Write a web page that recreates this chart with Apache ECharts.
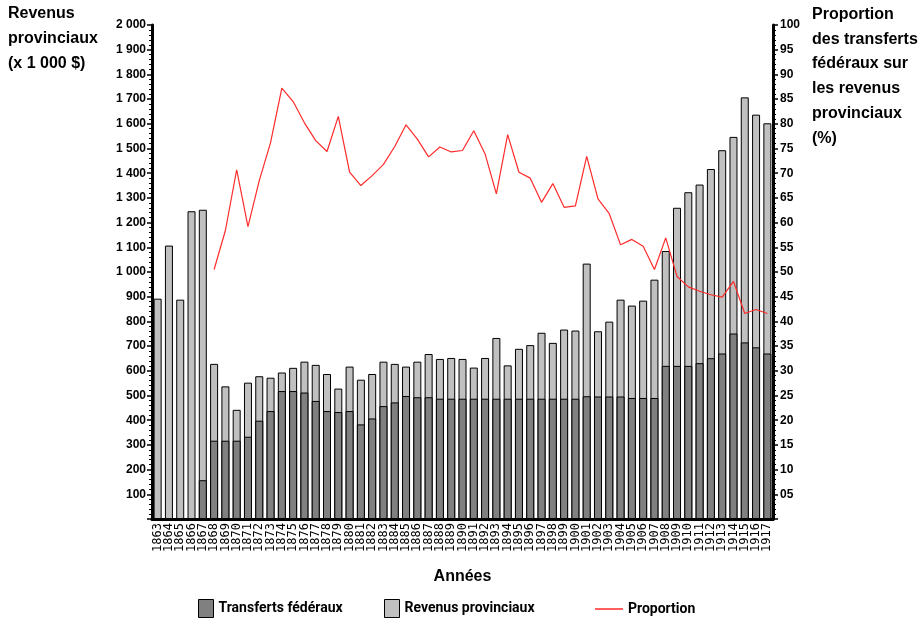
<!DOCTYPE html>
<html>
<head>
<meta charset="utf-8">
<script src="https://cdn.jsdelivr.net/npm/echarts@6/dist/echarts.min.js"></script>
<style>html,body{margin:0;padding:0;background:#fff}#c{width:918px;height:619px}</style>
</head>
<body>
<div id="c"></div>
<script>
const years = [];
for (let y = 1863; y <= 1917; y++) years.push(String(y));

const revenusProvinciaux = [892, 1107, 888, 1246, 1252, 628, 537, 442, 552, 578,
  572, 593, 612, 637, 624, 587, 528, 617, 564, 587,
  637, 628, 617, 637, 668, 648, 652, 648, 613, 652,
  733, 622, 689, 704, 754, 713, 767, 763, 1034, 760,
  799, 888, 864, 884, 969, 1085, 1260, 1323, 1354, 1417,
  1493, 1547, 1707, 1637, 1602];

const transfertsFederaux = [0, 0, 0, 0, 157, 317, 317, 317, 333, 398,
  437, 518, 518, 512, 478, 437, 433, 437, 383, 407,
  457, 472, 498, 493, 493, 487, 487, 487, 487, 487,
  487, 487, 487, 487, 487, 487, 487, 487, 497, 496,
  496, 496, 490, 490, 490, 620, 620, 620, 631, 651,
  670, 751, 715, 695, 670];

const proportion = [null, null, null, null, null, 50.5, 58.4, 70.7, 59.2, 68.5,
  76.2, 87.2, 84.5, 80.2, 76.6, 74.4, 81.5, 70.2, 67.5, 69.5,
  71.8, 75.4, 79.8, 76.9, 73.3, 75.3, 74.3, 74.6, 78.6, 73.9,
  65.8, 77.8, 70.2, 69.0, 64.1, 67.9, 63.1, 63.4, 73.4, 64.8,
  61.8, 55.5, 56.6, 55.2, 50.5, 56.9, 49.1, 47.0, 46.1, 45.4,
  44.9, 48.1, 41.6, 42.4, 41.6];

const chart = echarts.init(document.getElementById('c'), null, {renderer: 'canvas'});
const axisFont = {color: '#000', fontSize: 12, fontFamily: 'Liberation Sans, Arial, sans-serif'};
const legendText = {fontSize: 14, fontWeight: 'bold', color: '#000', fontFamily: 'Roboto, sans-serif'};

chart.setOption({
  animation: false,
  backgroundColor: '#fff',
  title: [
    {text: 'Revenus\nprovinciaux\n(x 1 000 $)', left: 3, top: -4,
     textStyle: {fontSize: 16, fontWeight: 'bold', color: '#000', lineHeight: 25, fontFamily: 'Liberation Sans, Arial, sans-serif'}},
    {text: 'Proportion\ndes transferts\nfédéraux sur\nles revenus\nprovinciaux\n(%)', left: 807, top: -3,
     textStyle: {fontSize: 16, fontWeight: 'bold', color: '#000', lineHeight: 24.8, fontFamily: 'Liberation Sans, Arial, sans-serif'}}
  ],
  legend: [
    {left: 193, top: 594, itemWidth: 15, itemHeight: 18, itemGap: 0, textStyle: legendText,
     data: [{name: 'Transferts fédéraux', icon: 'rect', itemStyle: {color: '#808080', borderColor: '#000', borderWidth: 1}}]},
    {left: 379, top: 594, itemWidth: 15, itemHeight: 18, textStyle: legendText,
     data: [{name: 'Revenus provinciaux', icon: 'rect', itemStyle: {color: '#c0c0c0', borderColor: '#000', borderWidth: 1}}]},
    {left: 590, top: 597, itemWidth: 28, itemHeight: 1.5, textStyle: legendText,
     data: [{name: 'Proportion', icon: 'rect', itemStyle: {color: '#ff2a2a', borderWidth: 0}}]}
  ],
  grid: {left: 152, right: 145, top: 25, bottom: 100, containLabel: false},
  xAxis: {
    type: 'category', data: years,
    name: 'Années', nameLocation: 'middle', nameGap: 50,
    nameTextStyle: {fontSize: 16, fontWeight: 'bold', color: '#000', fontFamily: 'Liberation Sans, Arial, sans-serif'},
    axisLine: {lineStyle: {color: '#000', width: 3}},
    axisTick: {show: false},
    axisLabel: {interval: 0, rotate: 90, fontSize: 12, color: '#000', margin: 4, fontFamily: 'DejaVu Sans Mono, monospace'}
  },
  yAxis: [
    {type: 'value', min: 0, max: 2000, interval: 100, position: 'left',
     axisLine: {show: true, lineStyle: {color: '#000', width: 3}},
     axisTick: {show: true, length: 5, lineStyle: {color: '#000', width: 1.5}},
     minorTick: {show: true, splitNumber: 5, length: 3, lineStyle: {color: '#000', width: 1}},
     splitLine: {show: false},
     axisLabel: Object.assign({margin: 6, fontWeight: 'bold', formatter: v => v === 0 ? '' : (v >= 1000 ? Math.floor(v/1000) + ' ' + String(v % 1000).padStart(3, '0') : String(v))}, axisFont)},
    {type: 'value', min: 0, max: 100, interval: 5, position: 'right',
     axisLine: {show: true, lineStyle: {color: '#000', width: 3}},
     axisTick: {show: true, length: 5, lineStyle: {color: '#000', width: 1.5}},
     minorTick: {show: true, splitNumber: 5, length: 3, lineStyle: {color: '#000', width: 1}},
     splitLine: {show: false},
     axisLabel: Object.assign({margin: 7, fontWeight: 'bold', formatter: v => v === 0 ? '' : (v === 5 ? '05' : String(v))}, axisFont)}
  ],
  series: [
    {name: 'Revenus provinciaux', type: 'bar', data: revenusProvinciaux, barWidth: 8, barGap: '-100%',
     itemStyle: {color: '#c0c0c0', borderColor: '#000', borderWidth: 1}},
    {name: 'Transferts fédéraux', type: 'bar', data: transfertsFederaux, barWidth: 8, barGap: '-100%',
     itemStyle: {color: '#808080', borderColor: '#000', borderWidth: 1}},
    {name: 'Proportion', type: 'line', yAxisIndex: 1, data: proportion, symbol: 'none', connectNulls: false,
     lineStyle: {color: '#ff2a2a', width: 1.2}, itemStyle: {color: '#ff2a2a'}, z: 5}
  ]
});
</script>
</body>
</html>
